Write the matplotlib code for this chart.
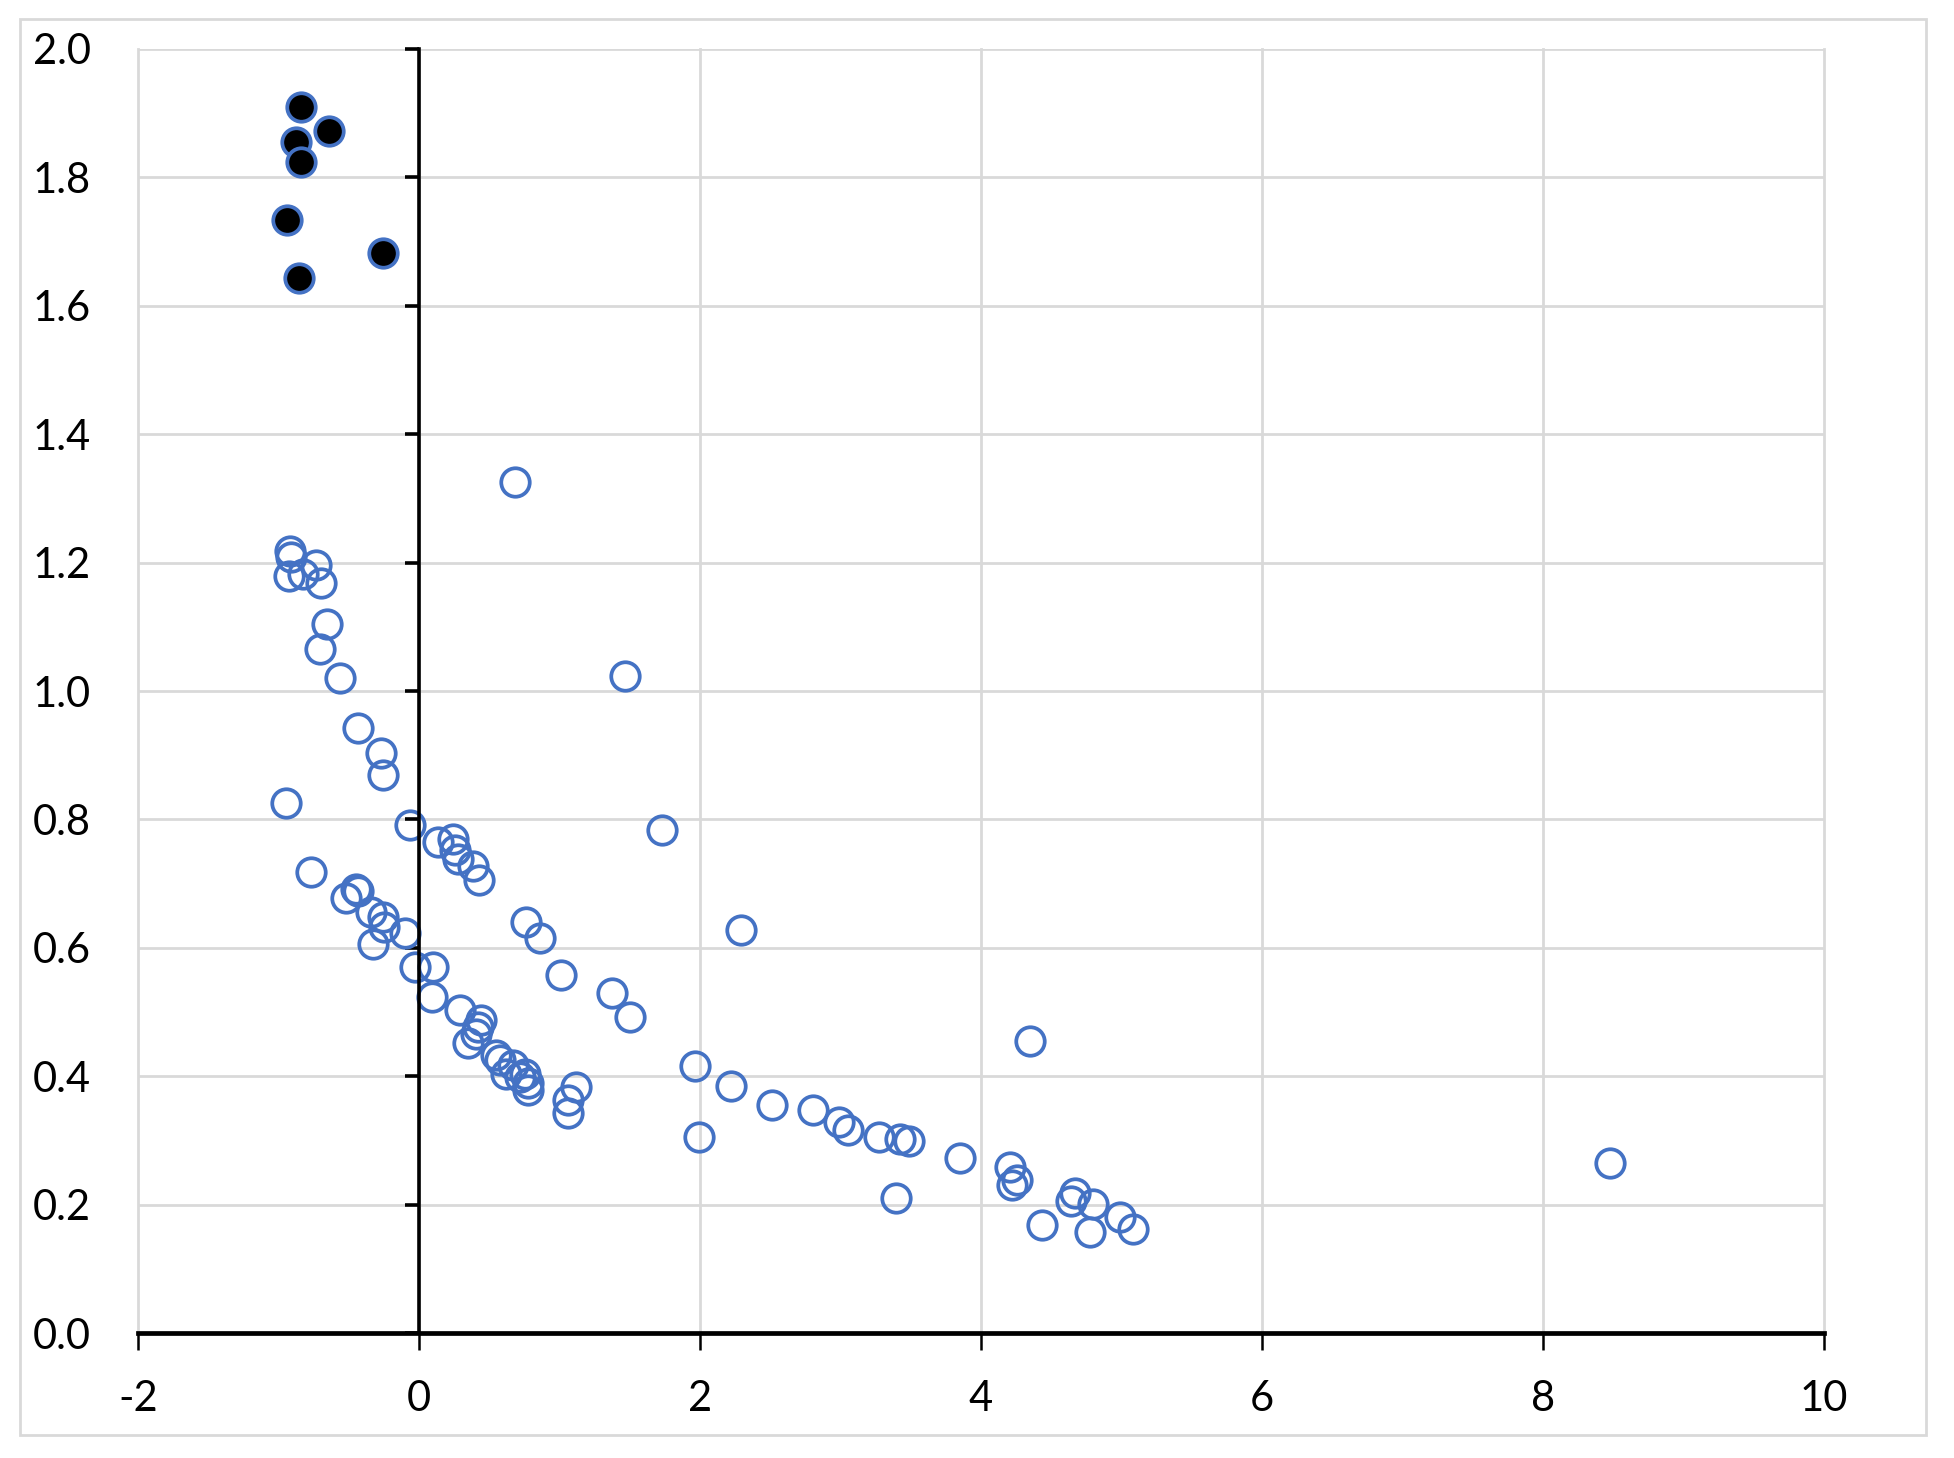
import matplotlib
matplotlib.use("Agg")
import matplotlib.pyplot as plt
from matplotlib.patches import Rectangle

plt.rcParams['font.family'] = ['Lato', 'DejaVu Sans']
plt.rcParams['axes.unicode_minus'] = False

# black-filled group (top left)
x_filled = [-0.838, -0.643, -0.874, -0.838, -0.936, -0.253, -0.856]
y_filled = [1.909, 1.872, 1.855, 1.824, 1.733, 1.682, 1.643]

# open circles
x_open = [0.680, 1.468, -0.915, -0.908, -0.730, -0.925, -0.826, -0.694, -0.655, -0.707,
          -0.559, -0.434, -0.268, -0.256, -0.944, -0.061, 0.136, 0.242, 0.254, 0.278,
          0.385, 0.427, -0.766, -0.445, -0.434, -0.522, -0.343, -0.256, -0.251, -0.102,
          -0.327, -0.030, 0.100, 0.096, 0.759, 0.859, 1.014, 1.377, 1.500, 1.733,
          0.290, 0.444, 0.420, 0.404, 0.349, 0.551, 0.575, 0.622, 0.669, 0.752,
          0.776, 0.776, 0.717, 1.116, 1.061, 1.061, 1.963, 1.991, 2.224, 2.515,
          2.295, 2.805, 2.990, 3.054, 3.274, 3.427, 3.488, 3.398, 3.849, 4.347,
          4.209, 4.257, 4.224, 4.437, 4.668, 4.637, 4.794, 4.774, 4.988, 5.083,
          8.474]
y_open = [1.326, 1.023, 1.218, 1.208, 1.197, 1.179, 1.182, 1.169, 1.104, 1.066,
          1.021, 0.943, 0.903, 0.869, 0.825, 0.792, 0.765, 0.770, 0.752, 0.739,
          0.728, 0.706, 0.718, 0.692, 0.688, 0.678, 0.656, 0.648, 0.632, 0.623,
          0.606, 0.570, 0.570, 0.524, 0.640, 0.615, 0.558, 0.530, 0.492, 0.783,
          0.503, 0.488, 0.477, 0.466, 0.452, 0.433, 0.425, 0.404, 0.417, 0.404,
          0.389, 0.378, 0.399, 0.383, 0.363, 0.343, 0.416, 0.306, 0.385, 0.355,
          0.627, 0.348, 0.329, 0.317, 0.306, 0.303, 0.299, 0.211, 0.273, 0.455,
          0.259, 0.238, 0.231, 0.168, 0.218, 0.205, 0.201, 0.158, 0.180, 0.162,
          0.265]

xticks = [-2, 0, 2, 4, 6, 8, 10]
yticks = [0.0, 0.2, 0.4, 0.6, 0.8, 1.0, 1.2, 1.4, 1.6, 1.8, 2.0]
ytick_labels = ['%.1f' % v for v in yticks]

blue = '#4472C4'
grid_col = '#d9d9d9'

fig = plt.figure(figsize=(19.54, 14.58), dpi=100)
ax = fig.add_axes([0.0706, 0.0857, 0.8629, 0.8807])

ax.plot(x_open, y_open, 'o', ms=20.5, mfc='none', mec=blue, mew=2.7, zorder=3)
ax.plot(x_filled, y_filled, 'o', ms=20.5, mfc='black', mec=blue, mew=2.7, zorder=3)

ax.set_xlim(-2, 10)
ax.set_ylim(0, 2.0)
ax.set_xticks(xticks)
ax.set_yticks(yticks)
ax.grid(True, color=grid_col, lw=2)
ax.set_axisbelow(True)
for ln in ax.get_xgridlines() + ax.get_ygridlines():
    ln.set_clip_on(False)

for s in ['top', 'right']:
    ax.spines[s].set_visible(False)

# y axis sits at x = 0, labels stay at the left edge
ax.spines['left'].set_position(('data', 0))
ax.spines['left'].set_linewidth(2.6)
ax.spines['left'].set_zorder(4)
ax.spines['bottom'].set_linewidth(3.4)
ax.spines['bottom'].set_zorder(4)
ax.tick_params(axis='y', direction='out', length=10, width=2.6, labelleft=False)
ax.tick_params(axis='x', direction='out', length=12, width=1.8, pad=22, labelsize=30)

sec = ax.secondary_yaxis(0.0)
for s in sec.spines.values():
    s.set_visible(False)
sec.set_yticks(yticks, ytick_labels)
sec.tick_params(length=0, pad=34, labelsize=30)

# outer chart frame
fig.patches.append(Rectangle((20 / 1954, 1 - 1435 / 1458), 1906 / 1954, 1416 / 1458,
                             transform=fig.transFigure, fill=False, ec=grid_col, lw=2))

fig.savefig('out.png', dpi=100, facecolor='white')
